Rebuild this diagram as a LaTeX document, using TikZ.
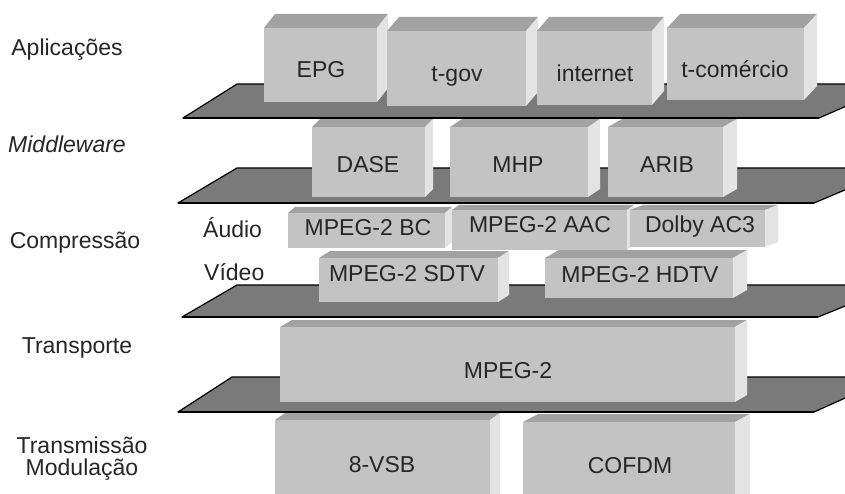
\documentclass[tikz,border=0pt]{standalone}
\usepackage{fontspec}
\setmainfont{Liberation Sans}
\definecolor{frontc}{HTML}{C3C3C3}
\definecolor{topc}{HTML}{A2A2A2}
\definecolor{sidec}{HTML}{E3E3E3}
\definecolor{platec}{HTML}{7A7A7A}
\definecolor{txtc}{HTML}{262626}
\tikzset{
  frontface/.style={fill=frontc, inner sep=0pt, outer sep=0pt, anchor=north west},
  lbl/.style={text=txtc, inner sep=0pt, anchor=base, font=\fontsize{23}{27}\selectfont},
  platestyle/.style={fill=platec, draw=black, line width=1.2pt, line join=round},
}
% #1 name, #2 x1, #3 y1, #4 x2, #5 y2, #6 dx, #7 dy
\newcommand\cubebox[7]{%
  \fill[topc] (#2,#3) -- (#2+#6,#3-#7) -- (#4+#6,#3-#7) -- (#4,#3) -- cycle;
  \fill[sidec] (#4,#3) -- (#4+#6,#3-#7) -- (#4+#6,#5-#7) -- (#4,#5) -- cycle;
  \node[frontface, minimum width={(#4-#2)*1pt}, minimum height={(#5-#3)*1pt}] (#1) at (#2,#3) {};
}
\newcommand\plate[5]{% #1 name, #2 xbl, #3 ybot, #4 xtl, #5 ytop
  \path[platestyle] (#2,#3) -- (#4,#5) -- (#4+660,#5) -- (#2+636,#3) -- cycle;
  \draw[black, line width=2pt] (#2,#3) -- (#2+636,#3);
  \coordinate (#1) at (#4,#5);
}
\begin{document}
\begin{tikzpicture}[x=1pt,y=-1pt]
\fill[white] (0,0) rectangle (845,494);
\clip (0,0) rectangle (845,494);

% row 6: transmission
\cubebox{vsb}{275}{420}{490}{510}{10}{7}
\cubebox{cofdm}{523}{422}{735}{510}{15}{8}
\plate{p4}{178}{412}{232}{377}
% row 5: transport
\cubebox{mpeg}{280}{327}{735}{402}{12}{7}
\plate{p3}{182}{317}{237}{285}
% row 4: video
\cubebox{sdtv}{319}{258}{498}{302}{11}{7}
\cubebox{hdtv}{545}{258}{733}{298}{14}{8}
% row 3: audio
\cubebox{bc}{288}{213}{445}{248}{7}{6}
\cubebox{aac}{452}{210}{627}{250}{7}{5}
\cubebox{dolby}{630}{210}{765}{247}{13}{5}
\plate{p2}{178}{203}{237}{168}
% row 2: middleware
\cubebox{dase}{312}{127}{425}{197}{8}{8}
\cubebox{mhp}{450}{127}{588}{197}{12}{8}
\cubebox{arib}{608}{127}{723}{197}{14}{8}
\plate{p1}{183}{118}{237}{84}
% row 1: applications
\cubebox{epg}{264}{28}{377}{102}{11}{14}
\cubebox{tgov}{387}{31}{526}{106}{12}{14}
\cubebox{inet}{537}{31}{652}{105}{12}{14}
\cubebox{tcom}{667}{28}{804}{100}{13}{14}

% box texts
\node[lbl] (epgt) at (321,78) {EPG};
\node[lbl] (tgovt) at (457,82) {t-gov};
\node[lbl] (inett) at (595,82) {internet};
\node[lbl] (tcomt) at (735,78) {t-comércio};
\node[lbl] (daset) at (368,173) {DASE};
\node[lbl] (mhpt) at (518,173) {MHP};
\node[lbl] (aribt) at (667,173) {ARIB};
\node[lbl] (bct) at (368,236) {MPEG-2 BC};
\node[lbl] (aact) at (540,233) {MPEG-2 AAC};
\node[lbl] (dolbyt) at (700,233) {Dolby AC3};
\node[lbl] (sdtvt) at (407,281) {MPEG-2 SDTV};
\node[lbl] (hdtvt) at (640,282) {MPEG-2 HDTV};
\node[lbl] (mpegt) at (508,378) {MPEG-2};
\node[lbl] (vsbt) at (382,472) {8-VSB};
\node[lbl] (cofdmt) at (630,473) {COFDM};

% layer labels
\node[lbl] (apl) at (67,56) {Aplicações};
\node[lbl, font=\fontsize{23}{27}\selectfont\itshape] (mid) at (67,153) {Middleware};
\node[lbl] (comp) at (75,248) {Compressão};
\node[lbl, anchor=base west] (aud) at (203,237) {Áudio};
\node[lbl, anchor=base west] (vid) at (204,280) {Vídeo};
\node[lbl] (transp) at (77,353) {Transporte};
\node[lbl] (transm) at (82,453) {Transmissão};
\node[lbl] (modul) at (82,475) {Modulação};
\end{tikzpicture}
\end{document}
